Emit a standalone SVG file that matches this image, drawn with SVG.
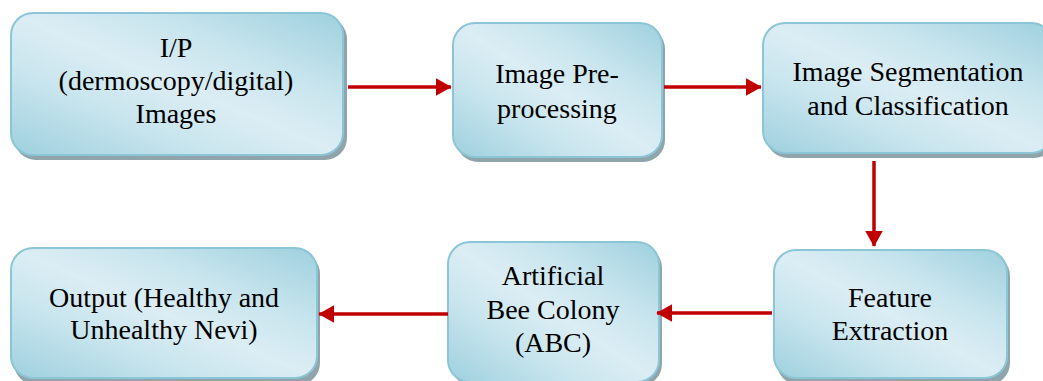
<svg xmlns="http://www.w3.org/2000/svg" width="1043" height="381" viewBox="0 0 1043 381">
<style>
.box{fill:url(#g);stroke:#8cc6d6;stroke-width:2}
.sh{fill:#8fa4ab}
.t{font-family:'Liberation Serif','DejaVu Serif',serif;font-size:28px;fill:#000;text-anchor:middle}
.c{stroke:#c00000;stroke-width:3.5;fill:none;marker-end:url(#ah)}
</style>
<defs>
<linearGradient id="g" x1="0" y1="1" x2="1" y2="0">
<stop offset="0" stop-color="#9ed0de"/>
<stop offset="0.3" stop-color="#c8e5ee"/>
<stop offset="0.5" stop-color="#dcedf4"/>
<stop offset="0.7" stop-color="#c8e5ee"/>
<stop offset="1" stop-color="#9ed0de"/>
</linearGradient>
<marker id="ah" markerWidth="5" markerHeight="5" refX="4.3" refY="2.5" orient="auto" markerUnits="strokeWidth">
<path d="M0,0 L4.5,2.5 L0,5 Z" fill="#c00000"/>
</marker>
</defs>
<g id="n1">
<rect class="sh" x="14" y="17" width="333" height="143" rx="22"/>
<rect class="box" x="11" y="13" width="332" height="142" rx="22"/>
<text class="t" x="176" y="57">I/P</text>
<text class="t" x="176" y="90">(dermoscopy/digital)</text>
<text class="t" x="176" y="123">Images</text>
</g>
<g id="n2">
<rect class="sh" x="456" y="27" width="209" height="135" rx="22"/>
<rect class="box" x="453" y="23" width="209" height="134" rx="22"/>
<text class="t" x="557" y="83">Image Pre-</text>
<text class="t" x="557" y="118">processing</text>
</g>
<g id="n3">
<rect class="sh" x="766" y="27" width="290" height="131" rx="22"/>
<rect class="box" x="763" y="23" width="290" height="130" rx="22"/>
<text class="t" x="908" y="81">Image Segmentation</text>
<text class="t" x="908" y="115">and Classification</text>
</g>
<g id="n4">
<rect class="sh" x="777" y="254" width="233" height="131" rx="22"/>
<rect class="box" x="774" y="250" width="233" height="128" rx="22"/>
<text class="t" x="890" y="307">Feature</text>
<text class="t" x="890" y="340">Extraction</text>
</g>
<g id="n5">
<rect class="sh" x="451" y="246" width="211" height="140" rx="22"/>
<rect class="box" x="448" y="242" width="211" height="140" rx="22"/>
<text class="t" x="553" y="285">Artificial</text>
<text class="t" x="553" y="319">Bee Colony</text>
<text class="t" x="553" y="352">(ABC)</text>
</g>
<g id="n6">
<rect class="sh" x="14" y="252" width="306" height="133" rx="22"/>
<rect class="box" x="11" y="248" width="306" height="130" rx="22"/>
<text class="t" x="164" y="307">Output (Healthy and</text>
<text class="t" x="164" y="339">Unhealthy Nevi)</text>
</g>
<g id="connectors">
<path class="c" d="M348,87 L451,87"/>
<path class="c" d="M664,87 L761,87"/>
<path class="c" d="M874,161 L874,246"/>
<path class="c" d="M772,313 L657,313"/>
<path class="c" d="M448,314 L319,314"/>
</g>
</svg>
